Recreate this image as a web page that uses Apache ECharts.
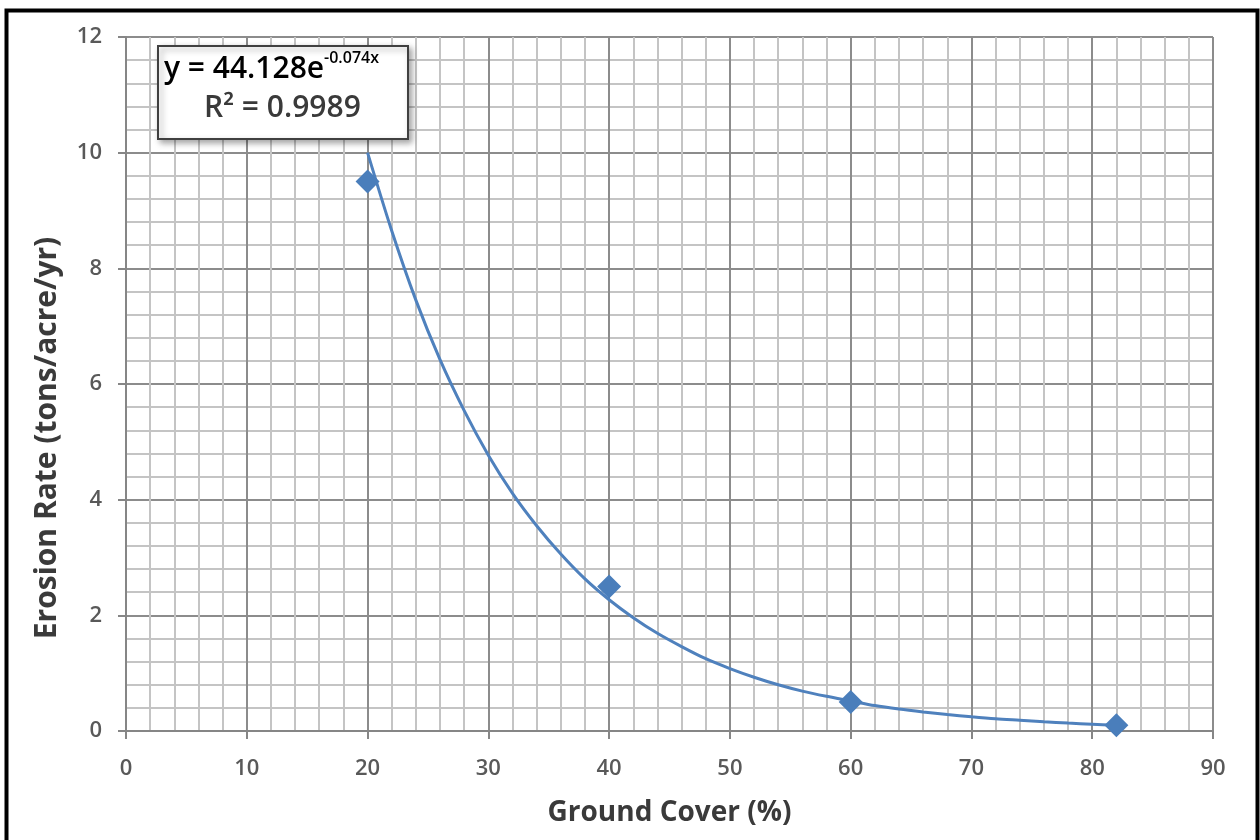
<!DOCTYPE html>
<html><head><meta charset="utf-8">
<script src="https://cdn.jsdelivr.net/npm/echarts@6/dist/echarts.min.js"></script>
<style>html,body{margin:0;padding:0;background:#fff}#c{width:1260px;height:840px}</style>
</head><body><div id="c"></div>
<script>
const groundCover = [20, 40, 60, 82];
const erosionRate = [9.5, 2.5, 0.5, 0.1];
const trendX = [20, 22, 24, 26, 28, 30, 32, 34, 36, 38, 40, 42, 44, 46, 48, 50, 52, 54, 56, 58, 60, 62, 64, 66, 68, 70, 72, 74, 76, 78, 80, 82];
const trendY = [10.0, 8.65, 7.45, 6.42, 5.54, 4.77, 4.11, 3.55, 3.06, 2.63, 2.27, 1.96, 1.69, 1.46, 1.25, 1.08, 0.93, 0.80, 0.69, 0.60, 0.52, 0.44, 0.38, 0.33, 0.285, 0.245, 0.21, 0.185, 0.16, 0.137, 0.118, 0.10];
const xTitle = 'Ground Cover (%)';
const yTitle = 'Erosion Rate (tons/acre/yr)';
const eqLine1 = 'y = 44.128e';
const eqExp = '-0.074x';
const eqLine2 = 'R² = 0.9989';

const font = '"Open Sans", sans-serif';
const chart = echarts.init(document.getElementById('c'));
chart.setOption({
  backgroundColor: '#fff',
  animation: false,
  grid: { left: 126, right: 47, top: 37, bottom: 109 },
  xAxis: {
    type: 'value', min: 0, max: 90, interval: 10,
    name: xTitle, nameLocation: 'middle', nameGap: 68,
    nameTextStyle: { fontFamily: font, fontSize: 28, fontWeight: 'bold', color: '#3a3a3a', verticalAlign: 'top' },
    axisLine: { show: true, lineStyle: { color: '#868686', width: 2 } },
    axisTick: { show: true, length: 8, lineStyle: { color: '#868686', width: 2 } },
    axisLabel: { fontFamily: font, fontSize: 22, fontWeight: 600, color: '#595959', margin: 27 },
    splitLine: { show: true, lineStyle: { color: '#8c8c8c', width: 2 } },
    minorTick: { show: false, splitNumber: 5 },
    minorSplitLine: { show: true, lineStyle: { color: '#c4c4c4', width: 2 } }
  },
  yAxis: {
    type: 'value', min: 0, max: 12, interval: 2,
    axisLine: { show: true, lineStyle: { color: '#868686', width: 2 } },
    axisTick: { show: true, length: 8, lineStyle: { color: '#868686', width: 2 } },
    axisLabel: { fontFamily: font, fontSize: 22, fontWeight: 600, color: '#595959', margin: 24 },
    splitLine: { show: true, lineStyle: { color: '#8c8c8c', width: 2 } },
    minorTick: { show: false, splitNumber: 5 },
    minorSplitLine: { show: true, lineStyle: { color: '#c4c4c4', width: 2 } }
  },
  series: [
    {
      type: 'line', data: trendX.map((x, i) => [x, trendY[i]]),
      smooth: 0.3, showSymbol: false, symbol: 'none',
      lineStyle: { color: '#4f81bd', width: 3 }, z: 3
    },
    {
      type: 'scatter', data: groundCover.map((x, i) => [x, erosionRate[i]]),
      symbol: 'diamond', symbolSize: 24,
      itemStyle: { color: '#4a7ebb', opacity: 1 }, z: 4
    }
  ],
  graphic: [
    {
      type: 'rect', left: 4, top: 8, z: 10, silent: true,
      shape: { width: 1251, height: 840 },
      style: { fill: 'none', stroke: '#000', lineWidth: 4 }
    },
    {
      type: 'text', x: 47, y: 438, rotation: Math.PI / 2, z: 21,
      style: { text: yTitle, fontFamily: font, fontSize: 30, fontWeight: 'bold', fill: '#3a3a3a', align: 'center', verticalAlign: 'middle' }
    },
    {
      type: 'rect', left: 157, top: 45, z: 20,
      shape: { width: 250, height: 93 },
      style: { fill: '#fff', stroke: '#404040', lineWidth: 2, shadowBlur: 6, shadowOffsetX: 3, shadowOffsetY: 3, shadowColor: 'rgba(0,0,0,0.35)' }
    },
    {
      type: 'text', left: 164, top: 50, z: 21,
      style: {
        text: '{a|' + eqLine1 + '}{s|' + eqExp + '}',
        rich: {
          a: { fontFamily: font, fontSize: 30, fontWeight: 600, color: '#3a3a3a', verticalAlign: 'bottom' },
          s: { fontFamily: font, fontSize: 16, fontWeight: 600, color: '#3a3a3a', verticalAlign: 'top', padding: [0, 0, 18, 0] }
        }
      }
    },
    {
      type: 'text', left: 204, top: 93, z: 21,
      style: { text: eqLine2, fontFamily: font, fontSize: 30, fontWeight: 600, fill: '#3a3a3a' }
    }
  ]
});
</script></body></html>
